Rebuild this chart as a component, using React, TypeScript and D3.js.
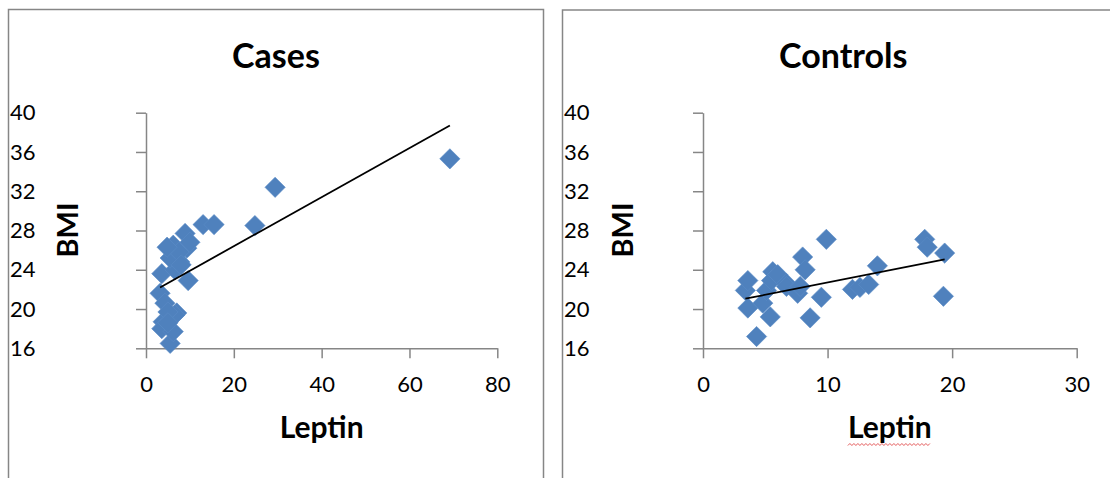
import React, { useRef, useEffect } from "react"
import * as d3 from "d3"

// Leptin vs BMI
const casesLeptin = [3.2, 3.6, 4.3, 3.9, 3.6, 5.5, 6.2, 7.0, 6.6, 5.0, 9.6, 6.6, 7.7, 5.5, 9.3, 6.2, 8.9, 10.0, 7.5, 8.0, 13.0, 15.5, 24.8, 29.4, 69.2, 5.0, 4.8]
const casesBMI = [21.6, 23.6, 20.6, 18.7, 18.0, 16.5, 17.7, 19.6, 19.4, 19.7, 22.9, 24.0, 24.8, 25.2, 26.2, 26.5, 27.7, 26.8, 25.8, 24.5, 28.6, 28.6, 28.5, 32.4, 35.3, 18.6, 26.3]

const controlsLeptin = [3.4, 3.6, 3.6, 4.3, 4.8, 5.1, 5.4, 5.6, 5.5, 6.0, 6.7, 6.7, 7.6, 7.8, 8.0, 8.2, 8.6, 9.5, 9.9, 12.0, 12.6, 13.3, 14.0, 17.8, 18.0, 19.4, 19.3]
const controlsBMI = [21.9, 22.9, 20.1, 17.2, 20.6, 21.9, 19.2, 23.8, 22.9, 23.5, 22.6, 22.3, 21.6, 22.3, 25.3, 24.0, 19.1, 21.2, 27.1, 22.0, 22.2, 22.5, 24.4, 27.1, 26.3, 25.7, 21.3]

// linear trendline [intercept, slope]
const casesTrend = [21.4, 0.25]
const controlsTrend = [20.2, 0.25]

const bmiTicks = [16, 20, 24, 28, 32, 36, 40]
const casesLeptinTicks = [0, 20, 40, 60, 80]
const controlsLeptinTicks = [0, 10, 20, 30]

const FONT = "Lato, 'Open Sans', sans-serif"
const AXIS = "#868686"
const BLUE = "#4F81BD"

const drawPanel = (svg, p) => {
    const g = svg.append("g")

    // panel frame
    g.append("rect")
        .attr("x", p.left).attr("y", p.top)
        .attr("width", p.right - p.left).attr("height", 600)
        .attr("fill", "white")
        .attr("stroke", AXIS)
        .attr("stroke-width", 1.5)

    g.append("text")
        .text(p.title)
        .attr("x", (p.left + p.right) / 2)
        .attr("y", 67.7)
        .attr("text-anchor", "middle")
        .style("font", `bold 34px ${FONT}`)

    const x = d3.scaleLinear().domain(p.xDomain).range([p.x0, p.x1])
    const y = d3.scaleLinear().domain([16, 40]).range([348.3, 112.7])

    const yAxis = g.append("g")
        .attr("transform", `translate(${p.x0},0)`)
        .call(d3.axisLeft(y).tickValues(bmiTicks).tickSize(10).tickSizeOuter(0))
    yAxis.selectAll("text")
        .attr("x", p.left + 1.5 - p.x0)
        .attr("text-anchor", "start")

    const xAxis = g.append("g")
        .attr("transform", `translate(0,${y(16)})`)
        .call(d3.axisBottom(x).tickValues(p.xTicks).tickSize(10).tickSizeOuter(0).tickPadding(18))

    for (const a of [xAxis, yAxis]) {
        a.attr("font-family", null).attr("font-size", null)
        a.selectAll("path, line").attr("stroke", AXIS).attr("stroke-width", 1.5)
        a.selectAll("text").style("font", `22px ${FONT}`).attr("fill", "black")
    }

    // trendline spans the data
    const [lo, hi] = d3.extent(p.xs)
    const [b0, b1] = p.trend

    const diamond = d3.symbol(d3.symbolSquare, 205)()
    g.append("g")
        .selectAll("path")
        .data(p.xs.map((v, i) => [v, p.ys[i]]))
        .enter()
            .append("path")
            .attr("d", diamond)
            .attr("transform", d => `translate(${x(d[0])},${y(d[1])}) rotate(45)`)
            .attr("fill", BLUE)
            .attr("stroke", "#5a8bc6")
            .attr("stroke-width", 0.6)

    g.append("line")
        .attr("x1", x(lo)).attr("y1", y(b0 + b1 * lo))
        .attr("x2", x(hi)).attr("y2", y(b0 + b1 * hi))
        .attr("stroke", "black")
        .attr("stroke-width", 1.8)

    g.append("text")
        .text("Leptin")
        .attr("x", (p.x0 + p.x1) / 2)
        .attr("y", 438)
        .attr("text-anchor", "middle")
        .style("font", `bold 30px ${FONT}`)

    g.append("text")
        .text("BMI")
        .attr("transform", `translate(${p.bmiX},230) rotate(-90)`)
        .attr("text-anchor", "middle")
        .attr("dominant-baseline", "central")
        .style("font", `bold 29px ${FONT}`)

    return g
}

const App = () => {
    let element = useRef(null)

    useEffect(() => {
        document.body.style.margin = "0"
        const svg = d3.select(element.current)
            .append("svg")
                .attr("width", 1110)
                .attr("height", 478)
                .style("display", "block")
                .style("background", "white")

        drawPanel(svg, {
            title: "Cases", left: 8.5, top: 9.5, right: 543.5,
            x0: 146, x1: 497.3, xDomain: [0, 80], xTicks: casesLeptinTicks,
            xs: casesLeptin, ys: casesBMI, trend: casesTrend, bmiX: 66.5,
        })

        const g = drawPanel(svg, {
            title: "Controls", left: 562.5, top: 10, right: 1124,
            x0: 703, x1: 1076.7, xDomain: [0, 30], xTicks: controlsLeptinTicks,
            xs: controlsLeptin, ys: controlsBMI, trend: controlsTrend, bmiX: 621,
        })

        // spell-check squiggle under the second "Leptin"
        const label = g.selectAll("text").filter(function () { return d3.select(this).text() === "Leptin" }).node()
        const bb = label.getBBox()
        const pts = d3.range(0, Math.floor(bb.width / 2) + 1).map(i => [bb.x + i * 2, 444.5 + (i % 2 ? -1 : 1)])
        g.append("path")
            .attr("d", d3.line()(pts))
            .attr("fill", "none")
            .attr("stroke", "#d33")
            .attr("stroke-width", 0.8)

        return () => {
            if (element.current) element.current.innerHTML = ""
        }
    }, [])

    return <div ref={element}></div>
}

export default App
